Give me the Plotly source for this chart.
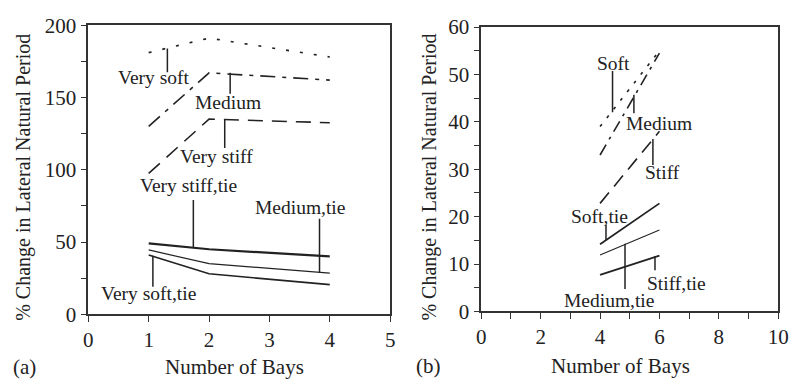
import plotly.graph_objects as go

# ---------------- data: panel (a) ----------------
bays_a = [1, 2, 4]
very_soft = [181, 191, 178]
medium = [130, 167, 162]
very_stiff = [97.5, 135, 132.5]
very_stiff_tie = [49, 45, 40]
medium_tie = [44.5, 35, 28.5]
very_soft_tie = [41, 28, 20.5]

# ---------------- data: panel (b) ----------------
bays_b = [4, 6]
soft = [39, 55]
medium_b = [33, 54.5]
stiff = [22.8, 38]
soft_tie = [14.2, 22.8]
medium_tie_b = [11.9, 17.2]
stiff_tie = [7.7, 11.8]

# labels: (text, text_x, text_y, leader_x, leader_y0, leader_y1)
labels_a = [
    ("Very soft", 1.09, 163.6, 1.31, 183.8, 167.5),
    ("Medium", 2.31, 146.8, 2.35, 167, 152.6),
    ("Very stiff", 2.13, 109, 2.26, 135, 115),
    ("Very stiff,tie", 1.66, 89, 1.74, 79, 46.5),
    ("Medium,tie", 3.51, 74, 3.83, 66, 28.6),
    ("Very soft,tie", 0.99, 14.3, 1.07, 40.5, 19),
]
labels_b = [
    ("Soft", 4.45, 52.3, 4.42, 50.7, 42),
    ("Medium", 6.0, 39.6, 5.14, 45.7, 41.8),
    ("Stiff", 6.1, 29.3, 5.78, 36.4, 30.9),
    ("Soft,tie", 3.99, 20, 4.2, 18.3, 15.1),
    ("Medium,tie", 4.29, 2.4, 4.84, 14.3, 4.75),
    ("Stiff,tie", 6.57, 5.9, 5.85, 11.7, 8.7),
]

FONT = "Liberation Serif"
INK = "#222222"
FS_LABEL = 19.5
FS_TICK = 21
FS_TITLE = 21
FS_YTITLE = 20

fig = go.Figure()

def add(x, y, xa, ya, width, dash):
    fig.add_trace(go.Scatter(x=x, y=y, xaxis=xa, yaxis=ya, mode="lines",
                             line=dict(color=INK, width=width, dash=dash),
                             showlegend=False, hoverinfo="skip"))

add(bays_a, very_soft, "x", "y", 1.6, "3px,11px")
add(bays_a, medium, "x", "y", 1.6, "15px,7px,4px,7px")
add(bays_a, very_stiff, "x", "y", 1.6, "15px,9px")
add(bays_a, very_stiff_tie, "x", "y", 2.2, "solid")
add(bays_a, medium_tie, "x", "y", 1.2, "solid")
add(bays_a, very_soft_tie, "x", "y", 1.6, "solid")

add(bays_b, soft, "x2", "y2", 1.6, "3px,8px")
add(bays_b, medium_b, "x2", "y2", 1.6, "12px,6px,3px,6px")
add(bays_b, stiff, "x2", "y2", 1.6, "14px,8px")
add(bays_b, soft_tie, "x2", "y2", 1.8, "solid")
add(bays_b, medium_tie_b, "x2", "y2", 1.1, "solid")
add(bays_b, stiff_tie, "x2", "y2", 1.8, "solid")

annotations = []
shapes = []
for labels, xr, yr in ((labels_a, "x", "y"), (labels_b, "x2", "y2")):
    for text, tx, ty, lx, ly0, ly1 in labels:
        annotations.append(dict(text=text, x=tx, y=ty, xref=xr, yref=yr,
                                showarrow=False, font=dict(family=FONT, size=FS_LABEL, color=INK),
                                xanchor="center", yanchor="middle"))
        shapes.append(dict(type="line", x0=lx, x1=lx, y0=ly0, y1=ly1, xref=xr, yref=yr,
                           line=dict(color=INK, width=1.5)))

def paper_text(text, x, y, size, angle=0):
    annotations.append(dict(text=text, x=x, y=y, xref="paper", yref="paper",
                            showarrow=False, textangle=angle,
                            font=dict(family=FONT, size=size, color=INK),
                            xanchor="center", yanchor="middle"))

H, W = 392, 800
paper_text("% Change in Lateral Natural Period", 19 / W, 1 - 176 / H, FS_YTITLE, -90)
paper_text("% Change in Lateral Natural Period", 433 / W, 1 - 176 / H, FS_YTITLE, -90)
paper_text("Number of Bays", 234 / W, 1 - 378 / H, FS_TITLE)
paper_text("Number of Bays", 628 / W, 1 - 377 / H, FS_TITLE)
paper_text("(a)", 20 / W, 1 - 378 / H, FS_TITLE)
paper_text("(b)", 432 / W, 1 - 377 / H, FS_TITLE)

axis_common = dict(showline=True, linecolor="#333333", linewidth=1.5, mirror=True,
                   ticks="outside", ticklen=6, tickwidth=1.3, tickcolor="#333333",
                   showgrid=False, zeroline=False,
                   tickfont=dict(family=FONT, size=FS_TICK, color=INK))

fig.update_layout(
    width=W, height=H, margin=dict(l=0, r=0, t=0, b=0),
    paper_bgcolor="white", plot_bgcolor="white",
    xaxis=dict(domain=[85 / W, 393 / W], range=[0, 5], anchor="y",
               tickvals=[0, 1, 2, 3, 4, 5], **axis_common),
    yaxis=dict(domain=[1 - 322 / H, 1 - 14 / H], range=[0, 200], anchor="x",
               tickvals=[0, 25, 50, 75, 100, 125, 150, 175, 200],
               ticktext=["0", "", "50", "", "100", "", "150", "", "200"], **axis_common),
    xaxis2=dict(domain=[486 / W, 789 / W], range=[0, 10], anchor="y2",
                tickvals=list(range(11)),
                ticktext=["0", "", "2", "", "4", "", "6", "", "8", "", "10"], **axis_common),
    yaxis2=dict(domain=[1 - 319 / H, 1 - 16 / H], range=[0, 60], anchor="x2",
                tickvals=list(range(0, 61, 5)),
                ticktext=[str(v) if v % 10 == 0 else "" for v in range(0, 61, 5)], **axis_common),
    annotations=annotations, shapes=shapes,
)

fig.write_html("out.html")
